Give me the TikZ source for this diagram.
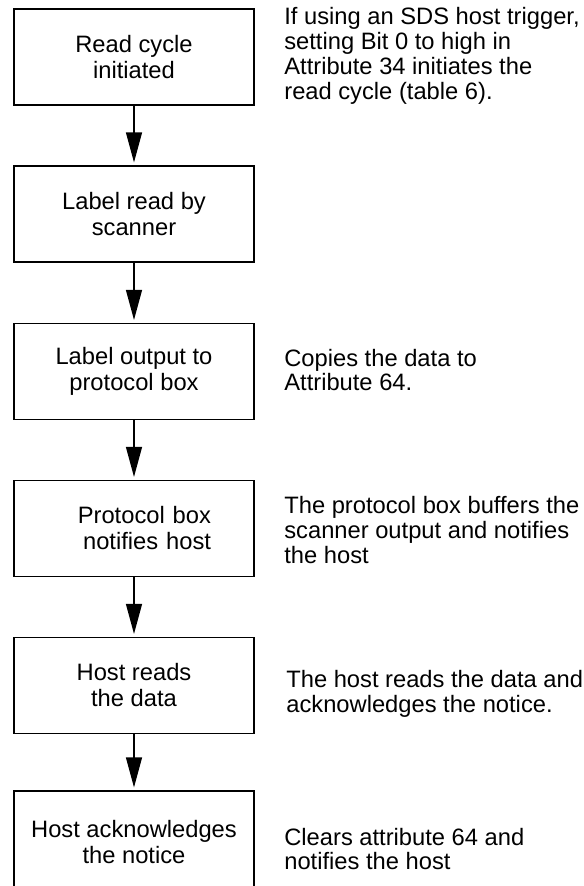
\documentclass[tikz,border=0pt]{standalone}
\usepackage{fontspec}
\setmainfont{Liberation Sans}
\usetikzlibrary{arrows.meta}
\tikzset{
	stepbox/.style={draw, line width=0.7pt, minimum width=4.8cm, minimum height=1.92cm, inner sep=0pt, align=center, font=\fontsize{13.5}{14.8}\selectfont},
	note/.style={anchor=west, inner sep=0pt, align=left, font=\fontsize{13.5}{14.1}\selectfont},
	flow/.style={line width=0.7pt, -{Triangle[length=0.6cm, width=0.32cm]}, shorten >=0.06cm}
}

\begin{document}
\begin{tikzpicture}[x=0.02cm, y=-0.02cm]
	\useasboundingbox (0,0) rectangle (583,886);
	% steps
	\node[stepbox] (init) at (134,57) {Read cycle\\initiated};
	\node[stepbox] (scan) at (134,214) {Label read by\\scanner};
	\node[stepbox] (output) at (134,371.5) {Label output to\\protocol box};
	\node[stepbox, align=right, text width=3.08cm] (notify) at (134,528.5) {Protocol box\\notifies host};
	\node[stepbox] (hostread) at (134,685.5) {Host reads\\the data};
	\node[stepbox, minimum height=2.04cm, text depth=0pt] (hostack) at (134,842) {Host acknowledges\\the notice};
	% notes
	\node[note] (initnote) at (284,56) {If using an SDS host trigger,\\setting Bit 0 to high in\\Attribute 34 initiates the\\read cycle (table 6).};
	\node[note] (outputnote) at (284,370) {Copies the data to\\Attribute 64.};
	\node[note] (notifynote) at (284,530) {The protocol box buffers the\\scanner output and notifies\\the host};
	\node[note] (hostreadnote) at (286,694) {The host reads the data and\\acknowledges the notice.};
	\node[note] (hostacknote) at (284,849) {Clears attribute 64 and\\notifies the host};
	% arrows
	\draw[flow] (init) -- (scan);
	\draw[flow] (scan) -- (output);
	\draw[flow] (output) -- (notify);
	\draw[flow] (notify) -- (hostread);
	\draw[flow] (hostread) -- (hostack);
\end{tikzpicture}
\end{document}
